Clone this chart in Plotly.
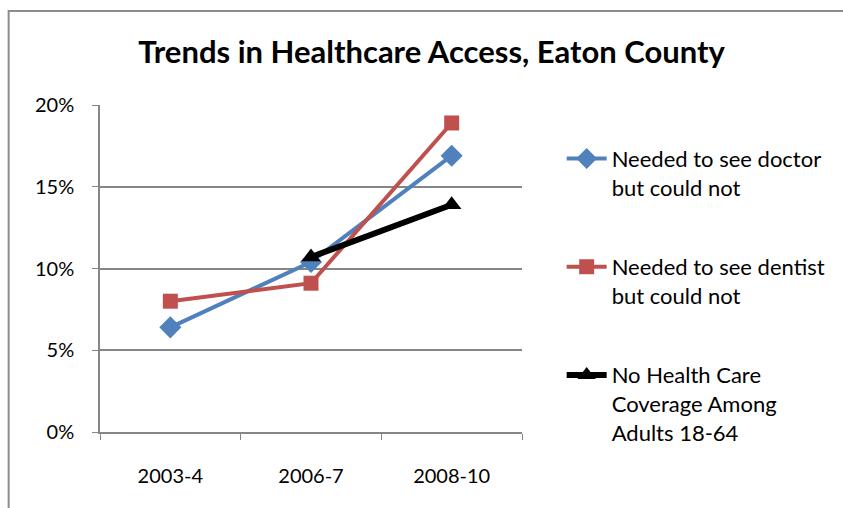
import plotly.graph_objects as go

categories = ["2003-4", "2006-7", "2008-10"]
doctor = [0.064, 0.104, 0.169]
dentist = [0.080, 0.091, 0.189]
coverage = [None, 0.107, 0.139]
names = ["Needed to see doctor<br>but could not",
         "Needed to see dentist<br>but could not",
         "No Health Care<br>Coverage Among<br>Adults 18-64"]
y_ticks = [0, 0.05, 0.10, 0.15, 0.20]
y_tick_text = ["0%", "5%", "10%", "15%", "20%"]

FONT = "Lato, Carlito, Calibri, sans-serif"

fig = go.Figure()
fig.add_trace(go.Scatter(x=categories, y=doctor, name=names[0], mode="lines+markers",
                         line=dict(color="#4F81BD", width=4),
                         marker=dict(symbol="diamond", size=17, color="#4F81BD"),
                         legendgroup="a"))
fig.add_trace(go.Scatter(x=categories, y=dentist, name=names[1], mode="lines+markers",
                         line=dict(color="#C0504D", width=4),
                         marker=dict(symbol="square", size=15, color="#C0504D"),
                         legendgroup="b"))
fig.add_trace(go.Scatter(x=categories, y=coverage, name=names[2], mode="lines+markers",
                         line=dict(color="#000000", width=6),
                         marker=dict(symbol="triangle-up", size=17, color="#000000"),
                         legendgroup="c"))

fig.update_layout(
    width=843, height=508,
    margin=dict(l=100, r=318, t=105, b=76),
    paper_bgcolor="white", plot_bgcolor="white",
    font=dict(family=FONT, size=20, color="black"),
    title=dict(text="<b>Trends in Healthcare Access, Eaton County</b>",
               x=0.512, xanchor="center", y=0.897, yanchor="middle",
               font=dict(family=FONT, size=31, color="black")),
    showlegend=True,
    legend=dict(x=1.094, xanchor="left", y=0.90, yanchor="top",
                traceorder="grouped", tracegroupgap=48, valign="top",
                font=dict(family=FONT, size=22, color="black"),
                itemwidth=40, bgcolor="rgba(0,0,0,0)"),
    xaxis=dict(type="category", showgrid=False, showline=True, linecolor="#868686",
               linewidth=1.5, ticks="outside", tickson="boundaries", ticklen=6,
               tickcolor="#868686", tickfont=dict(size=20), range=[-0.5, 2.5],
               ticklabelstandoff=25),
    yaxis=dict(range=[0, 0.2], tickvals=y_ticks, ticktext=y_tick_text,
               showgrid=True, gridcolor="#868686", gridwidth=1.5,
               showline=True, linecolor="#868686", linewidth=1.5,
               ticks="outside", ticklen=6, tickcolor="#868686", zeroline=False,
               tickfont=dict(size=20), ticklabelstandoff=14),
    shapes=[dict(type="rect", xref="paper", yref="paper",
                 x0=(8 - 100) / 425, x1=2, y0=-1, y1=(432 - 11) / 327,
                 line=dict(color="#8c8c8c", width=2), fillcolor="rgba(0,0,0,0)", layer="below")],
)

fig.write_html("out.html")
